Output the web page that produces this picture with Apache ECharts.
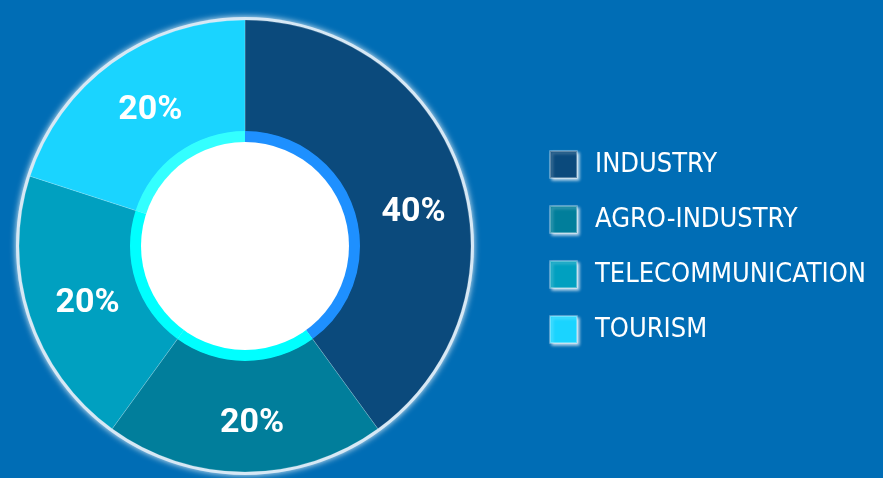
<!DOCTYPE html>
<html lang="en">
<head>
    <meta charset="UTF-8">
    <title>Sectors</title>
    <script src="https://cdn.jsdelivr.net/npm/echarts@6/dist/echarts.min.js"></script>
    <style>
        html, body { margin: 0; padding: 0; background: #006db5; }
    </style>
</head>
<body>

<div id="main" style="width: 883px;height:478px;"></div>

<script type="text/javascript">
    // data
    var sectors = ['INDUSTRY', 'AGRO-INDUSTRY', 'TELECOMMUNICATION', 'TOURISM'];
    var shares = [40, 20, 20, 20];
    var sliceColors = ['#0b4a7c', '#017e9b', '#00a0c0', '#1ad4ff'];
    var ringColors = ['#1e90ff', '#00ffff', '#00ffff', '#33ffff'];

    var data = [];
    var ring = [];
    for (var i = 0; i < sectors.length; i++) {
        data.push({ value: shares[i], name: sectors[i], itemStyle: { color: sliceColors[i] } });
        ring.push({ value: shares[i], name: sectors[i], itemStyle: { color: ringColors[i] } });
    }
    // the big slice has its label sitting a bit lower in the original
    data[0].label = { offset: [4, 20] };

    var myChart = echarts.init(document.getElementById('main'));

    var center = [245, 246];

    var option = {
        backgroundColor: '#006db5',
        animation: false,
        legend: {
            orient: 'vertical',
            left: 549,
            top: 150,
            padding: 0,
            icon: 'rect',
            itemWidth: 27,
            itemHeight: 27,
            itemGap: 26,
            data: sectors,
            itemStyle: {
                shadowBlur: 3,
                shadowColor: 'rgba(255,255,255,0.8)',
                shadowOffsetX: 2,
                shadowOffsetY: 2
            },
            textStyle: {
                color: '#ffffff',
                fontSize: 27,
                lineHeight: 27,
                fontFamily: '"DejaVu Sans Condensed", sans-serif',
                padding: [0, 0, 0, 13]
            }
        },
        series: [
            {
                // glowing rim behind the donut
                type: 'pie',
                silent: true,
                center: center,
                radius: [0, 229],
                label: { show: false },
                labelLine: { show: false },
                itemStyle: {
                    color: '#d6e8f5',
                    shadowBlur: 6,
                    shadowColor: 'rgba(255,255,255,0.9)'
                },
                data: [{ value: 1, name: 'rim' }],
                z: 1
            },
            {
                name: 'Sectors',
                type: 'pie',
                center: center,
                radius: [114, 226],
                startAngle: 90,
                label: {
                    show: true,
                    position: 'inside',
                    formatter: '{d}%',
                    offset: [7, 4],
                    color: '#ffffff',
                    fontSize: 34,
                    fontWeight: 'bold',
                    fontFamily: 'Roboto, sans-serif'
                },
                labelLine: { show: false },
                itemStyle: {
                    borderWidth: 0.6,
                    borderColor: 'rgba(255,255,255,0.3)'
                },
                data: data,
                z: 2
            },
            {
                type: 'pie',
                silent: true,
                center: center,
                radius: [103, 115],
                startAngle: 90,
                label: { show: false },
                labelLine: { show: false },
                data: ring,
                z: 3
            },
            {
                type: 'pie',
                silent: true,
                center: center,
                radius: [0, 104],
                label: { show: false },
                labelLine: { show: false },
                itemStyle: { color: '#ffffff' },
                data: [{ value: 1, name: 'hole' }],
                z: 4
            }
        ]
    };
    myChart.setOption(option);
</script>
</body>
</html>
